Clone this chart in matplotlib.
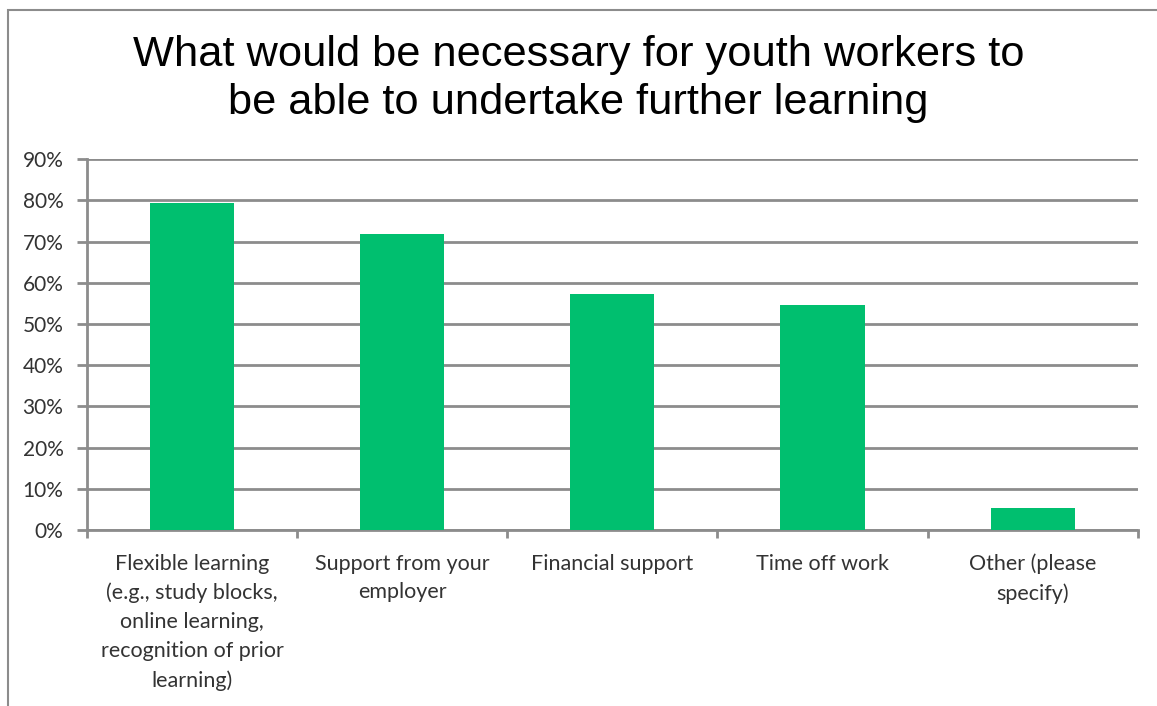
import matplotlib
matplotlib.use("Agg")
import matplotlib.pyplot as plt
from matplotlib.patches import Rectangle
from matplotlib.ticker import FixedLocator, PercentFormatter

title = "What would be necessary for youth workers to\nbe able to undertake further learning"
categories = [
    "Flexible learning\n(e.g., study blocks,\nonline learning,\nrecognition of prior\nlearning)",
    "Support from your\nemployer",
    "Financial support",
    "Time off work",
    "Other (please\nspecify)",
]
values = [79.3, 71.9, 57.2, 54.6, 5.3]
y_ticks = [0, 10, 20, 30, 40, 50, 60, 70, 80, 90]

bar_color = "#00BF6F"
grid_color = "#8C8C8C"
text_color = "#333333"
label_font = ["Lato", "DejaVu Sans"]

fig = plt.figure(figsize=(11.57, 7.06), dpi=100)
fig.patch.set_facecolor("white")

# outer chart frame
fig.add_artist(Rectangle((8 / 1157, -0.05), 1.2, 1 - 10 / 706 + 0.05,
                         transform=fig.transFigure, fill=False,
                         edgecolor="#8C8C8C", linewidth=1.5))

ax = fig.add_axes([87 / 1157, 1 - 530 / 706, (1137.7 - 87) / 1157, (530 - 159.3) / 706])
x = list(range(len(categories)))
ax.bar(x, values, width=0.4, color=bar_color, zorder=3)

ax.set_xlim(-0.5, len(categories) - 0.5)
ax.set_ylim(0, 90)
ax.yaxis.set_major_locator(FixedLocator(y_ticks))
ax.yaxis.set_major_formatter(PercentFormatter(decimals=0))
ax.grid(axis="y", color=grid_color, linewidth=2, zorder=0)

for side in ("top", "right"):
    ax.spines[side].set_visible(False)
for side in ("left", "bottom"):
    ax.spines[side].set_color(grid_color)
    ax.spines[side].set_linewidth(2)

ax.set_xticks(x)
ax.set_xticklabels(categories, fontsize=15.5, color=text_color,
                   family=label_font, linespacing=1.55, va="top")
ax.tick_params(axis="x", which="major", length=0, pad=17)
ax.set_xticks([i - 0.5 for i in range(len(categories) + 1)], minor=True)
ax.tick_params(axis="x", which="minor", length=6, width=2, color=grid_color, direction="out")
ax.tick_params(axis="y", length=7, width=2, color=grid_color, labelsize=15,
               labelcolor=text_color, pad=10)
for lab in ax.get_yticklabels():
    lab.set_family(label_font)

fig.text(0.5, 1 - 79 / 706, title, ha="center", va="center", fontsize=31.2,
         family=["Liberation Sans", "DejaVu Sans"], color="black", linespacing=1.25)

fig.savefig("out.png", dpi=100, facecolor="white")
